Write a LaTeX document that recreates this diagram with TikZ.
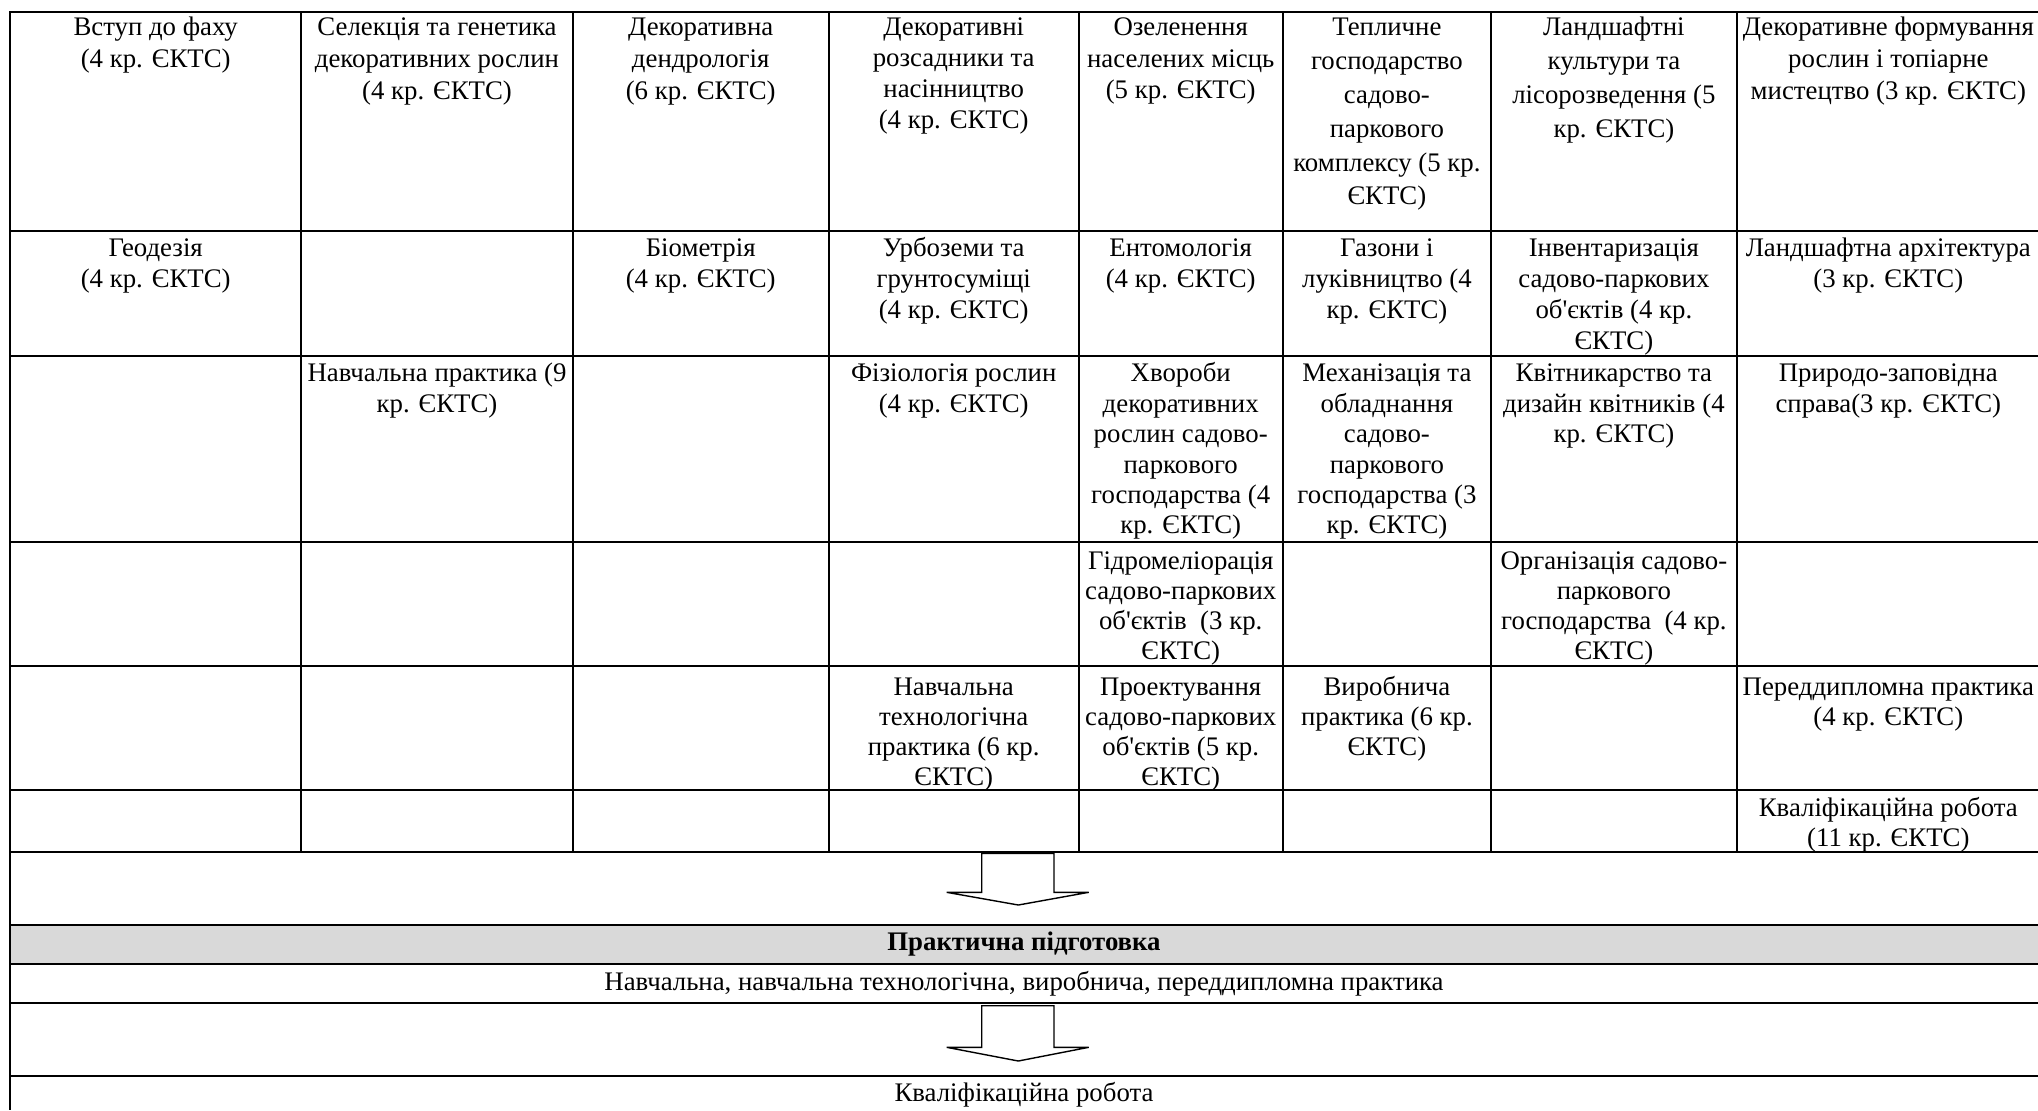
\documentclass[tikz,border=0pt]{standalone}
\usepackage{fontspec}
\setmainfont{Liberation Serif}
\newcommand\fst{\rule{0pt}{11pt}}
\newcommand\apo{\textquotesingle}
\begin{document}
\begin{tikzpicture}[x=0.5pt,y=-0.5pt,
  grid/.style={line width=1pt,black},
  band/.style={fill=black!15},
  blockarrow/.style={draw=black,line width=0.7pt,fill=white,line join=miter},
  cell/.style={anchor=north,inner sep=0pt,align=center,font=\fontsize{13.4}{#1}\selectfont},
  cell/.default={15.2},
  wide/.style={anchor=base,inner sep=0pt,font=\fontsize{13.4}{15}\selectfont}]
\useasboundingbox (0,0) rectangle (2038,1110);
% gray band
\fill[band] (10,925) rectangle (2040,964);
% horizontal lines
\foreach \yy in {11.7,230.7,356,542,665.7,790,851.7,925,964,1002.7,1075.7}
  \draw[grid] (10,\yy) -- (2040,\yy);
% vertical lines
\foreach \xx in {301.3,572.8,828.7,1078.7,1282.7,1491.1,1736.7}
  \draw[grid] (\xx,11.7) -- (\xx,851.7);
\draw[grid] (10,11.2) -- (10,1110);
% row 1
\node[cell=15.85] (r1c1) at (155.7,13.5) {\fst Вступ до фаху\\(4 кр. ЄКТС)};
\node[cell=15.9]  (r1c2) at (437,13.5) {\fst Селекція та генетика\\декоративних рослин\\(4 кр. ЄКТС)};
\node[cell=15.9]  (r1c3) at (700.7,13.5) {\fst Декоративна\\дендрологія\\(6 кр. ЄКТС)};
\node[cell=15.5]  (r1c4) at (953.7,13.5) {\fst Декоративні\\розсадники та\\насінництво\\(4 кр. ЄКТС)};
\node[cell=15.6]  (r1c5) at (1180.7,13.5) {\fst Озеленення\\населених місць\\(5 кр. ЄКТС)};
\node[cell=16.9]  (r1c6) at (1386.9,13.5) {\fst Тепличне\\господарство\\садово-\\паркового\\комплексу (5 кр.\\ЄКТС)};
\node[cell=16.9]  (r1c7) at (1613.9,13.5) {\fst Ландшафтні\\культури та\\лісорозведення (5\\кр. ЄКТС)};
\node[cell=15.9]  (r1c8) at (1888.3,13.5) {\fst Декоративне формування\\рослин і топіарне\\мистецтво (3 кр. ЄКТС)};
% row 2
\node[cell=15.5] (r2c1) at (155.7,233.8) {\fst Геодезія\\(4 кр. ЄКТС)};
\node[cell=15.5] (r2c3) at (700.7,233.8) {\fst Біометрія\\(4 кр. ЄКТС)};
\node[cell=15.5] (r2c4) at (953.7,233.8) {\fst Урбоземи та\\грунтосуміщі\\(4 кр. ЄКТС)};
\node[cell=15.5] (r2c5) at (1180.7,233.8) {\fst Ентомологія\\(4 кр. ЄКТС)};
\node[cell=15.5] (r2c6) at (1386.9,233.8) {\fst Газони і\\луківництво (4\\кр. ЄКТС)};
\node[cell=15.5] (r2c7) at (1613.9,233.8) {\fst Інвентаризація\\садово-паркових\\об\apo єктів (4 кр.\\ЄКТС)};
\node[cell=15.5] (r2c8) at (1888.3,233.8) {\fst Ландшафтна архітектура\\(3 кр. ЄКТС)};
% row 3
\node[cell=15.2] (r3c2) at (437,359.5) {\fst Навчальна практика (9\\кр. ЄКТС)};
\node[cell=15.2] (r3c4) at (953.7,359.5) {\fst Фізіологія рослин\\(4 кр. ЄКТС)};
\node[cell=15.2] (r3c5) at (1180.7,359.5) {\fst Хвороби\\декоративних\\рослин садово-\\паркового\\господарства (4\\кр. ЄКТС)};
\node[cell=15.2] (r3c6) at (1386.9,359.5) {\fst Механізація та\\обладнання\\садово-\\паркового\\господарства (3\\кр. ЄКТС)};
\node[cell=15.2] (r3c7) at (1613.9,359.5) {\fst Квітникарство та\\дизайн квітників (4\\кр. ЄКТС)};
\node[cell=15.2] (r3c8) at (1888.3,359.5) {\fst Природо-заповідна\\справа(3 кр. ЄКТС)};
% row 4
\node[cell=15] (r4c5) at (1180.7,547.2) {\fst Гідромеліорація\\садово-паркових\\об\apo єктів\ \ (3 кр.\\ЄКТС)};
\node[cell=15] (r4c7) at (1613.9,547.2) {\fst Організація садово-\\паркового\\господарства\ \ (4 кр.\\ЄКТС)};
% row 5
\node[cell=15] (r5c4) at (953.7,673.2) {\fst Навчальна\\технологічна\\практика (6 кр.\\ЄКТС)};
\node[cell=15] (r5c5) at (1180.7,673.2) {\fst Проектування\\садово-паркових\\об\apo єктів (5 кр.\\ЄКТС)};
\node[cell=15] (r5c6) at (1386.9,673.2) {\fst Виробнича\\практика (6 кр.\\ЄКТС)};
\node[cell=15] (r5c8) at (1888.3,673.2) {\fst Переддипломна практика\\(4 кр. ЄКТС)};
% row 6
\node[cell=15] (r6c8) at (1888.3,794.3) {\fst Кваліфікаційна робота\\(11 кр. ЄКТС)};
% block arrows
\draw[blockarrow] (981.7,853.3) -- (1054,853.3) -- (1054,892.3) -- (1088.7,892.3)
  -- (1018.3,905) -- (946.7,892.3) -- (981.7,892.3) -- cycle;
\draw[blockarrow] (981.7,1005.7) -- (1054,1005.7) -- (1054,1047.3) -- (1088.7,1047.3)
  -- (1018.3,1061) -- (946.7,1047.3) -- (981.7,1047.3) -- cycle;
% bottom section
\node[wide,font=\fontsize{13.4}{15}\selectfont\bfseries] (prakt) at (1024,950) {Практична підготовка};
\node[wide] (vydy) at (1024,990.5) {Навчальна, навчальна технологічна, виробнича, переддипломна практика};
\node[wide] (kvalif) at (1024,1101.5) {Кваліфікаційна робота};
\end{tikzpicture}
\end{document}
